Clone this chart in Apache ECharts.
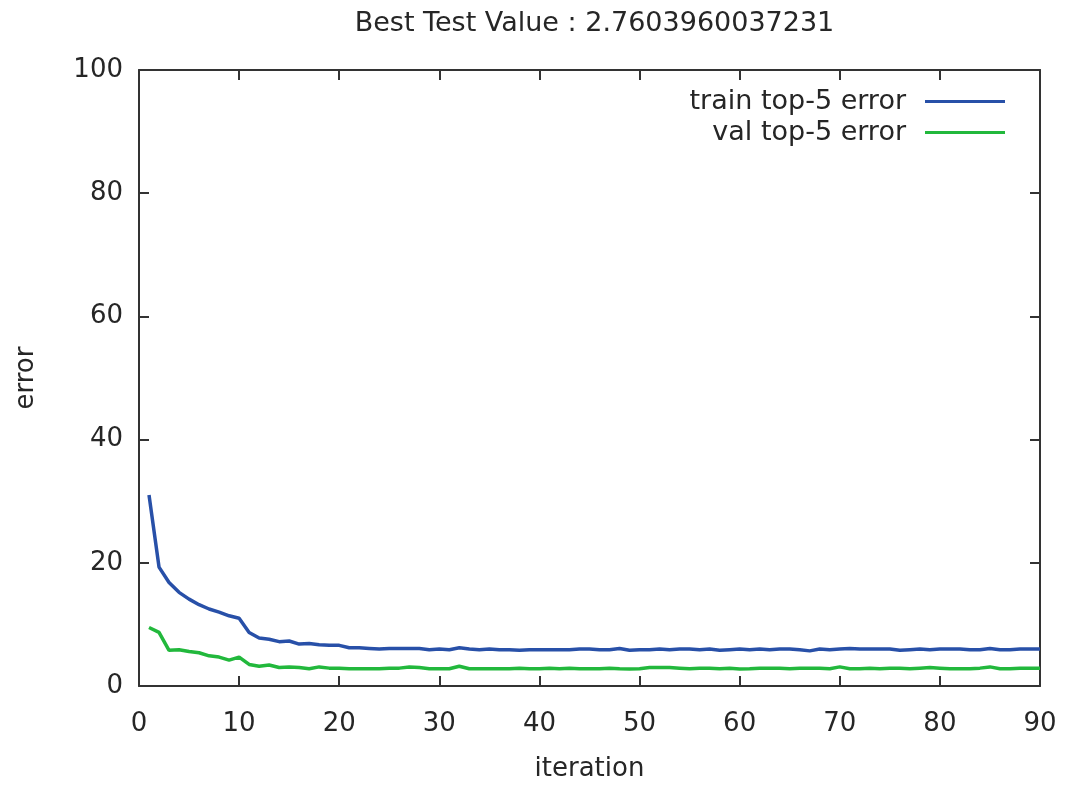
<!DOCTYPE html>
<html>
<head>
<meta charset="utf-8">
<script src="https://cdn.jsdelivr.net/npm/echarts@6/dist/echarts.min.js"></script>
<style>html,body{margin:0;padding:0;background:#fff}#c{width:1067px;height:787px}</style>
</head>
<body>
<div id="c"></div>
<script>
const titleText = 'Best Test Value : 2.7603960037231';
const seriesNames = ['train top-5 error', 'val top-5 error'];
const iterations = [1,2,3,4,5,6,7,8,9,10,11,12,13,14,15,16,17,18,19,20,21,22,23,24,25,26,27,28,29,30,
  31,32,33,34,35,36,37,38,39,40,41,42,43,44,45,46,47,48,49,50,51,52,53,54,55,56,57,58,59,60,
  61,62,63,64,65,66,67,68,69,70,71,72,73,74,75,76,77,78,79,80,81,82,83,84,85,86,87,88,89,90];
const trainErr = [31.0,19.3,16.8,15.2,14.1,13.2,12.5,12.0,11.4,11.0,8.7,7.8,7.6,7.2,7.3,6.8,6.9,6.7,6.6,6.6,
  6.2,6.2,6.1,6.0,6.1,6.1,6.1,6.1,5.9,6.0,5.9,6.2,6.0,5.9,6.0,5.9,5.9,5.8,5.9,5.9,
  5.9,5.9,5.9,6.0,6.0,5.9,5.9,6.1,5.8,5.9,5.9,6.0,5.9,6.0,6.0,5.9,6.0,5.8,5.9,6.0,
  5.9,6.0,5.9,6.0,6.0,5.9,5.7,6.0,5.9,6.0,6.1,6.0,6.0,6.0,6.0,5.8,5.9,6.0,5.9,6.0,
  6.0,6.0,5.9,5.9,6.1,5.9,5.9,6.0,6.0,6.0];
const valErr = [9.5,8.7,5.8,5.9,5.6,5.4,4.9,4.7,4.2,4.7,3.5,3.2,3.4,3.0,3.1,3.0,2.8,3.1,2.9,2.9,
  2.8,2.8,2.8,2.8,2.9,2.9,3.1,3.0,2.8,2.8,2.8,3.2,2.8,2.8,2.8,2.8,2.8,2.9,2.8,2.8,
  2.9,2.8,2.9,2.8,2.8,2.8,2.9,2.8,2.76,2.8,3.0,3.0,3.0,2.9,2.8,2.9,2.9,2.8,2.9,2.77,
  2.8,2.9,2.9,2.9,2.8,2.9,2.9,2.9,2.8,3.1,2.8,2.8,2.9,2.8,2.9,2.9,2.8,2.9,3.0,2.9,
  2.8,2.8,2.8,2.9,3.1,2.8,2.8,2.9,2.9,2.9];
const xTicks = {min: 0, max: 90, interval: 10};
const yTicks = {min: 0, max: 100, interval: 20};

const FONT = 'DejaVu Sans';
const AX = '#333333';
const TXT = '#262626';
const BLUE = '#2850a8';
const GREEN = '#22b83c';
const chart = echarts.init(document.getElementById('c'), null, {renderer: 'canvas'});
const pair = (ys) => iterations.map((x, i) => [x, ys[i]]);
const axisLine = {show: true, onZero: false, lineStyle: {color: AX, width: 2}};
const tick = {show: true, inside: true, length: 10, lineStyle: {color: AX, width: 2}};
chart.setOption({
  animation: false,
  backgroundColor: '#ffffff',
  textStyle: {fontFamily: FONT},
  title: {text: titleText, top: 5, left: 589.5, textAlign: 'center',
    textStyle: {fontFamily: FONT, fontSize: 27, fontWeight: 'normal', color: TXT}},
  legend: {
    orient: 'vertical', right: 62, top: 88, padding: 0, align: 'right',
    icon: 'rect', itemWidth: 80, itemHeight: 3, itemGap: 4,
    textStyle: {fontFamily: FONT, fontSize: 27, color: TXT, lineHeight: 27, padding: [0, 14, 0, 0]},
    data: [
      {name: seriesNames[0], itemStyle: {color: BLUE}},
      {name: seriesNames[1], itemStyle: {color: GREEN}}
    ]
  },
  grid: {left: 139, right: 27, top: 70, bottom: 98, containLabel: false},
  xAxis: [{
    type: 'value', min: xTicks.min, max: xTicks.max, interval: xTicks.interval,
    name: 'iteration', nameLocation: 'middle', nameGap: 70,
    nameTextStyle: {fontFamily: FONT, fontSize: 26, color: TXT},
    axisLine, axisTick: tick, splitLine: {show: false},
    axisLabel: {fontFamily: FONT, fontSize: 26, color: TXT, margin: 25}
  }, {
    type: 'value', position: 'top', min: xTicks.min, max: xTicks.max, interval: xTicks.interval,
    axisLine, axisTick: tick, splitLine: {show: false}, axisLabel: {show: false}
  }],
  yAxis: [{
    type: 'value', min: yTicks.min, max: yTicks.max, interval: yTicks.interval,
    name: 'error', nameLocation: 'middle', nameGap: 100, nameRotate: 90,
    nameTextStyle: {fontFamily: FONT, fontSize: 26, color: TXT},
    axisLine, axisTick: tick, splitLine: {show: false},
    axisLabel: {fontFamily: FONT, fontSize: 26, color: TXT, margin: 16}
  }, {
    type: 'value', position: 'right', min: yTicks.min, max: yTicks.max, interval: yTicks.interval,
    axisLine, axisTick: tick, splitLine: {show: false}, axisLabel: {show: false}
  }],
  series: [{
    name: seriesNames[0], type: 'line', data: pair(trainErr), symbol: 'none',
    xAxisIndex: 0, yAxisIndex: 0,
    lineStyle: {color: BLUE, width: 3.5}, itemStyle: {color: BLUE}
  }, {
    name: seriesNames[1], type: 'line', data: pair(valErr), symbol: 'none',
    xAxisIndex: 0, yAxisIndex: 0,
    lineStyle: {color: GREEN, width: 3.5}, itemStyle: {color: GREEN}
  }]
});
</script>
</body>
</html>
